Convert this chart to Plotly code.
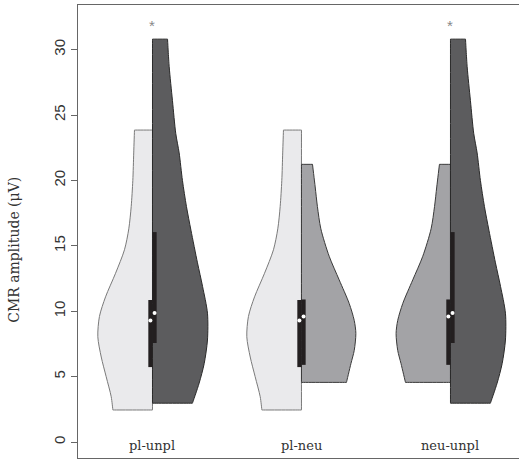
import plotly.graph_objects as go

# ---- data ----
categories = ["pl-unpl", "pl-neu", "neu-unpl"]
pairs = [("pl", "unpl"), ("pl", "neu"), ("neu", "unpl")]
significant = [True, False, True]

# density profiles: y levels (µV) and half-widths (x units)
pl_y = [2.45, 3.46, 5.0, 6.5, 8.05, 9.6, 11.1, 12.9, 14.7, 16.3, 18.0, 20.0, 22.1, 23.85]
pl_w = [0.266, 0.277, 0.311, 0.344, 0.367, 0.356, 0.315, 0.248, 0.188, 0.159, 0.143, 0.132, 0.126, 0.121]

unpl_y = [2.97, 4.5, 6.0, 7.8, 9.85, 11.9, 13.7, 16.2, 18.0, 20.0, 22.1, 23.6, 26.1, 28.7, 30.8]
unpl_w = [0.268, 0.313, 0.347, 0.369, 0.369, 0.336, 0.302, 0.258, 0.228, 0.201, 0.179, 0.156, 0.134, 0.112, 0.101]

neu_y = [4.56, 6.0, 7.0, 8.3, 9.3, 10.6, 12.4, 14.2, 16.3, 18.0, 19.5, 21.23]
neu_w = [0.302, 0.332, 0.354, 0.365, 0.354, 0.320, 0.253, 0.186, 0.130, 0.107, 0.092, 0.074]

q1 = {"pl": 5.73, "neu": 5.9, "unpl": 7.57}
q3 = {"pl": 10.86, "neu": 10.9, "unpl": 16.05}
median = {"pl": 9.3, "neu": 9.6, "unpl": 9.86}

y_ticks = [0, 5, 10, 15, 20, 25, 30]

# ---- styles ----
profiles = {"pl": (pl_y, pl_w), "neu": (neu_y, neu_w), "unpl": (unpl_y, unpl_w)}
fills = {"pl": "#EAEAEC", "neu": "#A3A3A6", "unpl": "#5C5C5E"}
outlines = {"pl": "#7a7a7a", "neu": "#3a3a3a", "unpl": "#2a2a2a"}
box_w = 0.028

fig = go.Figure()
annotations = []

for i, (cat, (left, right)) in enumerate(zip(categories, pairs)):
    c = i + 1
    for name, side in ((left, -1), (right, 1)):
        ys, ws = profiles[name]
        # corners repeated so the spline keeps the flat ends square
        xs = [c, c, c + side * ws[0]] + [c + side * w for w in ws] + \
             [c + side * ws[-1], c, c, c]
        yy = [ys[0], ys[0], ys[0]] + list(ys) + [ys[-1], ys[-1], ys[-1], ys[0]]
        fig.add_trace(go.Scatter(
            x=xs, y=yy, mode="lines", fill="toself",
            fillcolor=fills[name],
            line=dict(color=outlines[name], width=1, shape="spline", smoothing=0.8),
            hoverinfo="skip", showlegend=False))
for i, (cat, (left, right)) in enumerate(zip(categories, pairs)):
    c = i + 1
    for name, side in ((left, -1), (right, 1)):
        x0, x1 = (c - box_w, c) if side < 0 else (c, c + box_w)
        fig.add_trace(go.Scatter(
            x=[x0, x1, x1, x0, x0], y=[q1[name], q1[name], q3[name], q3[name], q1[name]],
            mode="lines", fill="toself", fillcolor="#231F20",
            line=dict(width=0, color="#231F20"), hoverinfo="skip", showlegend=False))
    fig.add_trace(go.Scatter(
        x=[c - box_w / 2, c + box_w / 2], y=[median[left], median[right]],
        mode="markers", marker=dict(color="white", size=4, line=dict(width=0)),
        hoverinfo="skip", showlegend=False))
    annotations.append(dict(x=c, y=-0.3, xref="x", yref="y", text=cat,
                            showarrow=False, yanchor="middle",
                            font=dict(family="DejaVu Serif", size=13, color="#333")))
    if significant[i]:
        annotations.append(dict(x=c, y=31.85, xref="x", yref="y", text="*",
                                showarrow=False, yanchor="middle",
                                font=dict(family="Liberation Sans", size=15, color="#888")))

annotations.append(dict(x=-0.145, xref="paper", y=14.7, yref="y",
                        text="CMR amplitude (μV)", textangle=-90, showarrow=False,
                        xanchor="center", yanchor="middle",
                        font=dict(family="DejaVu Serif", size=14, color="#333")))

fig.update_layout(
    width=519, height=459,
    margin=dict(l=78, r=0, t=5, b=1, autoexpand=False),
    paper_bgcolor="white", plot_bgcolor="white",
    annotations=annotations,
    xaxis=dict(range=[0.5, 3.46], showline=True, mirror=True, linecolor="#666",
               linewidth=1, showticklabels=False, ticks="", showgrid=False,
               zeroline=False, fixedrange=True, automargin=False),
    yaxis=dict(range=[-1.22, 33.41], tickvals=y_ticks, ticks="outside", ticklen=6,
               tickcolor="#666", tickwidth=1, showline=True, linecolor="#666",
               linewidth=1, tickangle=-90, showgrid=False, zeroline=False,
               automargin=False,
               tickfont=dict(family="Liberation Sans", size=15, color="#333")),
)

fig.write_html("out.html", config={"displayModeBar": False},
               post_script="document.body.style.margin='0';document.body.style.overflow='hidden';")
